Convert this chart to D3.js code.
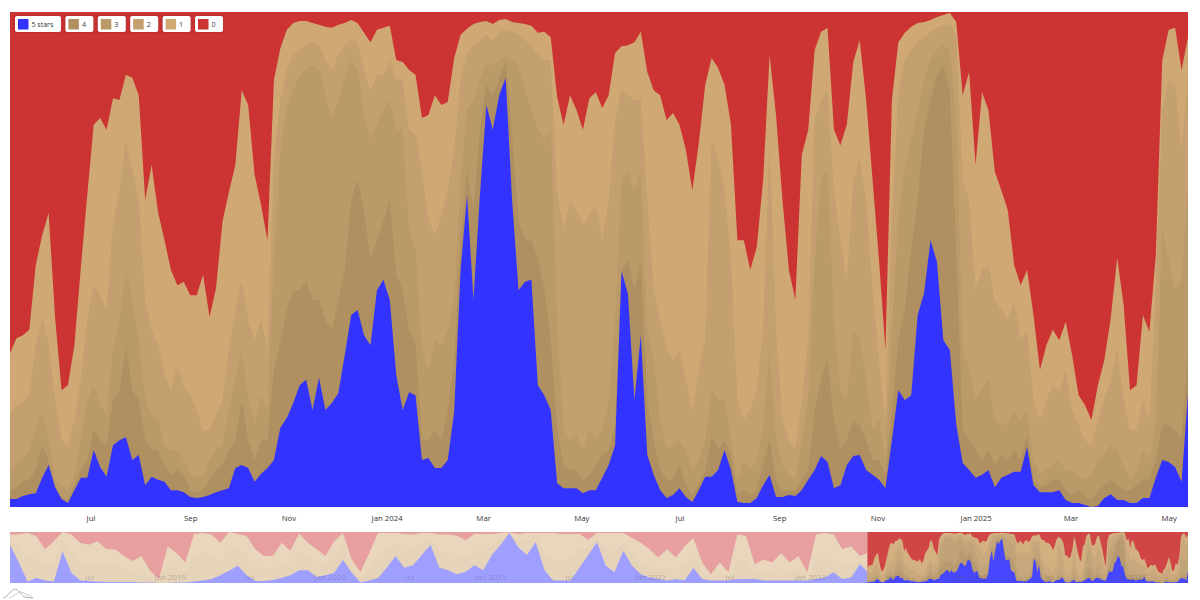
<!DOCTYPE html>
<html>
<head>
<meta charset="utf-8">
<script src="https://cdn.jsdelivr.net/npm/d3@7"></script>
<style>
body { margin: 0; background: #fff; }
text { font-family: "Open Sans", sans-serif; }
</style>
</head>
<body>
<div id="chart"></div>
<script>
// share of reviews (%) with at least N stars, one value every 4 days from 12 May 2023
var atLeast5 = [
    1.6,1.6,2.2,2.6,2.8,5.9,8.5,4.0,1.6,0.8,
    3.4,5.9,5.9,11.5,8.1,6.1,12.5,13.5,14.1,9.5,
    10.5,4.4,6.1,5.5,5.1,3.4,3.4,3.0,2.0,1.8,
    2.0,2.4,3.0,3.4,3.8,7.9,8.5,7.9,5.1,6.7,
    7.9,9.5,16.0,18.0,21.0,24.6,25.7,19.6,26.1,19.6,
    21.0,23.0,30.7,38.8,39.8,34.7,32.7,43.8,45.9,41.8,
    26.7,19.6,23.2,22.6,9.5,9.9,7.9,7.9,9.5,19.2,
    47.9,63.0,41.8,63.0,81.2,76.2,83.2,86.7,62.0,43.8,
    45.5,45.9,24.6,22.6,19.6,4.8,3.8,3.8,3.8,2.8,
    3.4,3.4,5.9,8.5,12.5,47.7,43.0,21.6,34.7,10.5,
    6.5,3.4,1.8,2.4,3.8,2.0,1.0,3.4,6.1,6.1,
    7.5,11.5,7.5,1.0,0.8,0.8,1.8,4.4,6.5,2.0,
    2.0,2.4,2.2,3.4,5.5,7.5,10.3,9.1,3.8,4.4,
    8.5,10.3,10.5,7.5,6.5,5.5,3.8,13.5,23.6,21.6,
    22.6,38.8,43.2,53.9,49.5,33.7,31.7,16.6,8.9,7.5,
    5.9,6.5,7.5,4.0,5.9,6.5,7.1,7.1,12.1,4.4,
    3.0,3.0,3.0,3.4,1.4,0.8,0.8,0.4,0,0.2,
    1.8,2.6,1.4,1.4,0.8,0.8,1.8,1.8,5.9,9.5,
    9.1,8.1,5.1,23.0
];
var atLeast4 = [
    3.4,3.8,5.1,5.5,7.5,12.5,9.1,4.4,2.0,1.4,
    4.4,7.5,9.5,15.6,13.5,12.5,21.6,23.6,32.7,23.6,
    21.6,13.5,11.5,11.5,8.5,6.5,7.5,6.5,3.4,2.8,
    3.4,5.5,7.5,8.5,11.5,13.5,21.6,13.5,9.5,13.5,
    13.5,27.7,33.7,39.8,43.8,43.8,45.9,41.8,41.8,37.8,
    35.8,41.8,47.9,62.0,66.1,60.0,49.9,53.9,58.0,62.0,
    46.9,43.8,35.8,32.7,13.5,13.5,15.6,13.5,19.6,29.7,
    53.9,68.1,60.0,76.2,85.3,83.2,86.3,90.3,75.2,58.0,
    53.9,53.9,49.9,43.8,33.7,15.6,8.5,7.5,7.5,5.5,
    6.5,8.5,10.5,11.5,16.6,47.9,49.9,43.8,49.9,21.6,
    13.5,7.5,5.5,5.5,8.5,4.4,2.4,4.4,7.5,14.5,
    11.5,13.5,10.5,2.4,3.4,2.4,3.4,8.5,13.5,5.5,
    3.4,3.4,3.4,5.5,7.5,19.6,25.7,29.7,17.6,11.5,
    13.5,17.6,16.6,13.5,9.5,9.5,6.5,19.6,33.7,39.8,
    51.9,62.0,76.2,82.2,87.3,89.3,84.2,51.9,15.6,13.5,
    11.5,9.5,11.5,8.5,10.5,9.5,11.5,9.5,14.5,5.5,
    4.0,4.4,5.5,5.5,3.4,2.4,3.4,2.4,1.4,3.4,
    4.4,5.5,4.4,3.4,3.4,4.4,5.5,5.5,9.5,16.6,
    16.6,15.6,13.5,31.7
];
var atLeast3 = [
    7.5,8.5,9.9,11.5,15.6,19.2,13.5,5.5,4.4,3.4,
    6.5,13.5,21.6,24.6,20.6,18.6,31.7,37.8,47.9,41.8,
    33.7,21.6,18.6,17.6,12.5,11.5,11.5,9.5,6.5,5.9,
    6.5,9.5,11.5,12.5,19.6,25.7,31.7,21.6,16.6,22.6,
    19.6,49.9,72.1,80.2,84.2,87.3,88.3,89.3,88.3,83.2,
    78.2,82.2,86.3,90.3,88.3,79.2,74.1,77.2,80.2,82.2,
    76.2,76.2,56.0,51.9,31.7,27.7,33.7,32.7,35.8,41.8,
    66.1,80.2,82.2,86.3,89.3,89.3,90.3,91.3,90.3,89.3,
    84.2,80.2,76.2,74.1,76.2,37.8,15.6,13.5,14.5,11.5,
    15.6,13.5,15.6,21.6,37.8,66.1,68.1,64.0,68.1,35.8,
    29.7,17.6,11.5,12.5,13.5,11.5,7.5,9.5,13.5,23.6,
    21.6,21.6,13.5,5.5,9.5,7.5,9.5,15.6,31.7,13.5,
    8.5,6.5,5.5,13.5,21.6,49.9,66.1,68.1,37.8,23.6,
    21.6,35.8,33.7,25.7,15.6,17.6,9.5,35.8,58.0,68.1,
    74.1,80.2,86.3,90.3,92.3,93.3,92.3,78.2,31.7,27.7,
    21.6,23.6,25.7,17.6,16.6,16.6,19.6,17.6,19.6,9.5,
    6.5,7.5,8.5,9.5,7.5,7.5,6.5,5.5,6.5,9.5,
    10.5,12.5,11.5,8.5,5.5,7.5,11.5,9.5,17.6,56.0,
    49.9,43.8,45.9,64.0
];
var atLeast2 = [
    19.2,20.6,21.2,22.6,32.7,38.8,32.7,21.6,13.5,12.5,
    17.6,25.7,37.8,44.8,42.8,39.8,57.0,64.0,74.1,68.1,
    62.0,41.8,35.8,32.7,26.7,23.6,28.7,24.6,22.6,19.6,
    15.6,15.6,18.6,21.6,31.7,39.8,45.9,37.8,33.7,37.8,
    31.7,70.1,82.2,88.3,91.3,92.3,93.3,94.3,93.3,90.3,
    88.3,91.3,93.3,94.7,93.9,88.3,84.2,87.3,87.3,90.3,
    86.3,86.3,76.2,75.2,68.1,58.0,54.9,59.0,64.0,72.1,
    86.3,91.3,93.3,94.3,95.4,94.3,96.0,96.4,96.0,95.4,
    94.3,93.3,91.3,90.3,90.3,64.0,56.0,62.0,60.0,57.0,
    59.0,61.0,53.9,62.0,78.2,84.2,83.2,82.2,82.2,62.0,
    43.8,37.8,31.7,29.7,31.7,25.7,19.6,27.7,33.7,74.1,
    70.1,64.0,49.9,21.6,17.6,19.6,23.6,35.8,74.1,35.8,
    17.6,13.5,11.5,21.6,33.7,78.2,82.2,84.2,64.0,53.9,
    45.9,66.1,70.1,62.0,43.8,29.7,17.6,58.0,84.2,90.3,
    92.3,94.3,94.7,96.0,96.8,97.4,97.4,95.4,66.1,62.0,
    43.8,47.9,48.9,41.8,39.8,37.8,41.8,33.7,35.8,21.6,
    17.6,21.6,24.6,23.6,27.7,19.6,16.6,13.5,12.5,17.6,
    21.6,25.7,31.7,21.6,15.6,15.6,21.6,17.6,43.8,80.2,
    86.3,85.3,72.1,87.3
];
var atLeast1 = [
    31.1,34.1,34.7,35.8,48.9,54.9,59.4,38.4,23.6,24.6,
    32.7,48.3,63.0,77.2,78.6,76.2,82.6,82.2,87.3,86.7,
    83.2,62.0,69.1,59.6,53.9,47.9,44.8,45.5,42.8,42.8,
    46.9,38.4,44.2,57.6,63.6,69.1,84.2,81.2,67.1,61.0,
    53.9,86.3,92.7,96.4,97.8,98.2,98.2,97.8,97.4,97.0,
    96.8,97.4,97.8,98.4,97.8,95.8,93.9,96.4,96.8,97.2,
    90.3,89.9,88.3,87.3,78.6,79.2,83.2,81.2,81.8,90.7,
    95.4,96.6,97.6,98.0,98.2,97.6,98.4,98.6,98.0,97.8,
    97.6,97.2,95.8,96.0,94.9,82.8,77.2,83.2,80.2,76.2,
    82.6,83.8,80.6,83.2,91.7,93.1,93.3,93.9,96.0,87.9,
    84.2,83.2,78.2,79.6,77.2,72.1,64.0,73.5,85.3,90.7,
    88.7,85.3,77.2,53.9,53.9,47.9,52.5,66.1,91.3,79.2,
    62.0,47.9,41.8,71.1,76.2,92.3,96.0,96.8,76.2,73.1,
    77.2,89.9,94.3,82.2,66.1,49.9,31.7,82.2,93.9,95.8,
    97.0,97.8,98.0,98.4,99.0,99.4,99.8,98.0,83.2,87.9,
    69.1,83.8,80.2,67.7,64.0,60.0,48.9,44.8,47.9,38.8,
    27.7,32.7,35.8,33.7,37.4,30.7,22.6,20.6,17.6,24.6,
    29.7,38.2,50.3,40.8,23.6,24.6,38.8,35.4,50.9,90.3,
    96.4,96.8,88.3,94.9
];

// long history behind the navigator, one value every 20 days from 1 Jan 2018
var histAtLeast5 = [
    75,40,3,10,5,3,62,20,5,4,
    3,2,2,2,2,1,1,0,0,1,
    1,3,5,8,15,24,34,15,4,4,
    6,10,15,25,25,12,15,20,45,20,
    1,5,10,30,53,30,35,55,75,30,
    25,17,22,35,25,55,75,98,70,55,
    80,25,5,5,5,30,55,80,34,21,
    63,34,17,11,8,5,8,5,30,8,
    5,5,5,8,8,8,5,5,5,5,
    5,5,8,11,21,8,11,37,20
];
var histAtLeast3 = [
    85,70,50,50,35,40,85,60,40,35,
    40,35,35,30,22,28,12,4,35,30,
    20,55,60,55,40,65,70,55,35,28,
    28,42,35,65,50,40,30,50,75,30,
    10,30,55,65,78,62,65,78,85,62,
    60,55,50,65,60,75,85,98,85,78,
    90,60,45,45,50,65,70,88,70,60,
    80,60,40,35,28,30,25,35,55,20,
    10,20,12,45,45,20,25,20,28,20,
    28,12,45,50,45,35,40,45,30
];
var histAtLeast1 = [
    95,95,98,92,66,82,100,95,79,75,
    82,66,66,53,43,53,24,8,72,59,
    40,96,98,95,79,100,96,92,66,53,
    53,79,63,97,79,66,53,82,98,46,
    21,59,98,98,98,96,95,98,98,95,
    95,93,84,96,96,96,98,99,96,98,
    98,98,98,96,96,96,85,98,98,98,
    98,88,79,66,50,66,50,72,88,40,
    17,40,21,95,92,37,46,40,59,40,
    53,21,95,98,95,66,72,53,60
];

var seriesNames = ["5 stars", "4", "3", "2", "1", "0"];
var seriesColors = ["#3333ff", "#b09060", "#ba9a68", "#c49f70", "#d0a873", "#cc3333"];

var startDate = new Date(2023, 4, 12);
var endDate = new Date(2025, 4, 13);
var histStart = new Date(2018, 0, 1);

var dates = atLeast5.map(function (d, i) { return d3.timeDay.offset(startDate, i * 4); });
var histDates = histAtLeast5.map(function (d, i) { return d3.timeDay.offset(histStart, i * 20); });

var rows = dates.map(function (d, i) {
    return {
        date: d,
        "5 stars": atLeast5[i],
        "4": atLeast4[i] - atLeast5[i],
        "3": atLeast3[i] - atLeast4[i],
        "2": atLeast2[i] - atLeast3[i],
        "1": atLeast1[i] - atLeast2[i],
        "0": 100 - atLeast1[i]
    };
});
var series = d3.stack().keys(seriesNames)(rows);
// painted top layer first, each reaching down to 0, so no seams show between layers
var paintOrder = series.slice().reverse();

var svg = d3.select("#chart").append("svg")
    .attr("width", 1200)
    .attr("height", 600);

var x = d3.scaleTime().domain([startDate, endDate]).range([10, 1188]);
var y = d3.scaleLinear().domain([0, 100]).range([507, 12]);
var navX = d3.scaleTime().domain([histStart, endDate]).range([10, 1188]);
var navY = d3.scaleLinear().domain([0, 100]).range([583, 532]);

// main chart
var area = d3.area()
    .x(function (d) { return x(d.data.date); })
    .y0(y(0))
    .y1(function (d) { return y(d[1]); });

svg.append("g").selectAll("path").data(paintOrder)
    .enter().append("path")
    .attr("d", area)
    .style("fill", function (d) { return seriesColors[d.index]; });

var xAxis = d3.axisBottom(x)
    .tickValues(d3.timeMonth.range(new Date(2023, 6, 1), endDate, 2))
    .tickSize(0)
    .tickPadding(8)
    .tickFormat(function (d) { return d3.timeFormat(d.getMonth() == 0 ? "%b %Y" : "%b")(d); });

svg.append("g")
    .attr("transform", "translate(0,507)")
    .call(xAxis)
    .call(function (g) { g.select(".domain").remove(); })
    .selectAll("text")
    .style("font-family", '"Open Sans", sans-serif')
    .style("font-size", "7.8px")
    .style("fill", "#333");

// navigator: washed out history, then the selected range
var histLayers = [
    { hi: null, color: "#cc3333" },
    { hi: histAtLeast1, color: "#d0a873" },
    { hi: histAtLeast3, color: "#c8a26e" },
    { hi: histAtLeast5, color: "#3333ff" }
];

svg.append("clipPath").attr("id", "hist_clip")
    .append("rect")
    .attr("x", 10)
    .attr("y", 532)
    .attr("width", navX(startDate) - 10)
    .attr("height", 51);

var histGroup = svg.append("g")
    .attr("clip-path", "url(#hist_clip)")
    .style("opacity", 0.47);

histGroup.selectAll("path").data(histLayers)
    .enter().append("path")
    .attr("d", function (layer) {
        return d3.area()
            .x(function (d) { return navX(d); })
            .y0(navY(0))
            .y1(function (d, i) { return navY(layer.hi ? layer.hi[i] : 100); })(histDates);
    })
    .style("fill", function (d) { return d.color; });

var navArea = d3.area()
    .x(function (d) { return navX(d.data.date); })
    .y0(navY(0))
    .y1(function (d) { return navY(d[1]); });

svg.append("g")
    .style("opacity", 0.9)
    .selectAll("path").data(paintOrder)
    .enter().append("path")
    .attr("d", navArea)
    .style("fill", function (d) { return seriesColors[d.index]; });

var navAxis = d3.axisBottom(navX)
    .tickValues(d3.timeMonth.range(new Date(2018, 6, 1), endDate, 6))
    .tickSize(0)
    .tickPadding(0)
    .tickFormat(function (d) { return d3.timeFormat(d.getMonth() == 0 ? "%b %Y" : "%b")(d); });

svg.append("g")
    .attr("transform", "translate(0,574)")
    .call(navAxis)
    .call(function (g) { g.select(".domain").remove(); })
    .selectAll("text")
    .style("font-family", '"Open Sans", sans-serif')
    .style("font-size", "7.8px")
    .style("fill", "#555")
    .style("opacity", 0.3);

// legend
var legendX = 15;
var legendItems = svg.append("g").selectAll("g").data(seriesNames)
    .enter().append("g")
    .attr("transform", function (d) {
        var w = d == "5 stars" ? 46 : 28;
        var t = "translate(" + legendX + ",16)";
        legendX += w + 4.4;
        return t;
    });

legendItems.append("rect")
    .attr("width", function (d) { return d == "5 stars" ? 46 : 28; })
    .attr("height", 16)
    .attr("rx", 2)
    .style("fill", "#fff")
    .style("filter", "drop-shadow(0 0 1px rgba(0,0,0,0.25))");

legendItems.append("rect")
    .attr("x", 3)
    .attr("y", 3)
    .attr("width", 10.5)
    .attr("height", 10.5)
    .style("fill", function (d, i) { return seriesColors[i]; });

legendItems.append("text")
    .attr("x", 16.5)
    .attr("y", 11.2)
    .style("font-size", "7px")
    .style("fill", "#333")
    .text(function (d) { return d; });

// little mountain mark in the corner
var logo = svg.append("g").attr("transform", "translate(3,589)")
    .style("fill", "none")
    .style("stroke-width", 0.8);
logo.append("path")
    .attr("d", "M0,9 C5,8 8,0 12,0 C15,0 18,5 21,8 L30,9")
    .style("stroke", "#999");
logo.append("path")
    .attr("d", "M6,9 C10,8 15,3 18,3 C21,3 22,6 26,6 C27,6 28,8 30,9")
    .style("stroke", "#bbb");
</script>
</body>
</html>
